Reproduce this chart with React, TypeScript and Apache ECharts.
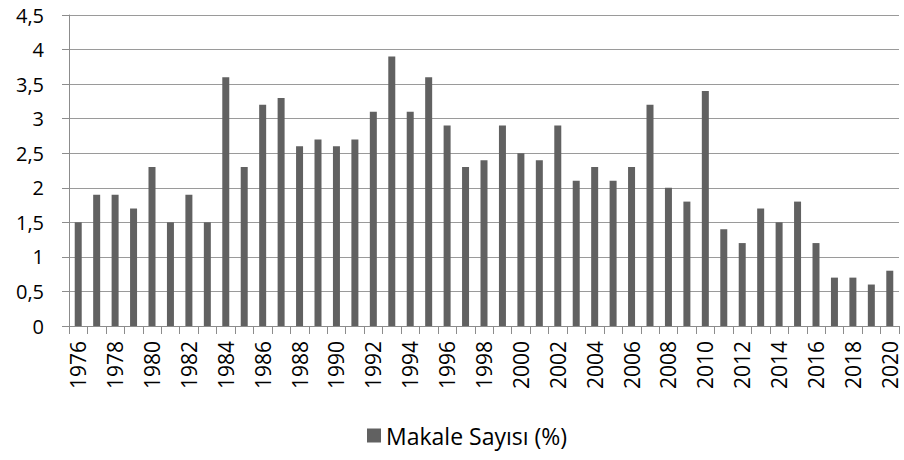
import React, { useEffect, useRef } from "react";
import * as echarts from "echarts";

const years: string[] = [
  "1976","1977","1978","1979","1980","1981","1982","1983","1984","1985",
  "1986","1987","1988","1989","1990","1991","1992","1993","1994","1995",
  "1996","1997","1998","1999","2000","2001","2002","2003","2004","2005",
  "2006","2007","2008","2009","2010","2011","2012","2013","2014","2015",
  "2016","2017","2018","2019","2020",
];
const makaleSayisi: number[] = [
  1.5, 1.9, 1.9, 1.7, 2.3, 1.5, 1.9, 1.5, 3.6, 2.3,
  3.2, 3.3, 2.6, 2.7, 2.6, 2.7, 3.1, 3.9, 3.1, 3.6,
  2.9, 2.3, 2.4, 2.9, 2.5, 2.4, 2.9, 2.1, 2.3, 2.1,
  2.3, 3.2, 2.0, 1.8, 3.4, 1.4, 1.2, 1.7, 1.5, 1.8,
  1.2, 0.7, 0.7, 0.6, 0.8,
];
const seriesName = "Makale Sayısı (%)";

const FONT = "'Open Sans', Lato, sans-serif";

export default function App() {
  const ref = useRef<HTMLDivElement>(null);
  useEffect(() => {
    if (!ref.current) return;
    const chart = echarts.init(ref.current, null, { renderer: "svg" });
    chart.setOption({
      animation: false,
      textStyle: { fontFamily: FONT },
      grid: { left: 69, right: 5, top: 15, bottom: 134, containLabel: false },
      legend: {
        bottom: 8,
        left: 362,
        itemWidth: 14,
        itemHeight: 14,
        itemGap: 6,
        icon: "rect",
        textStyle: { fontSize: 23, color: "#000", fontFamily: FONT },
        data: [seriesName],
      },
      xAxis: {
        type: "category",
        data: years,
        boundaryGap: true,
        axisLine: { show: true, lineStyle: { color: "#8c8c8c", width: 1 } },
        axisTick: { show: true, interval: 0, length: 8, lineStyle: { color: "#8c8c8c" } },
        axisLabel: {
          interval: 1,
          rotate: 90,
          fontSize: 21,
          color: "#000",
          margin: 15,
          fontFamily: FONT,
        },
      },
      yAxis: {
        type: "value",
        min: 0,
        max: 4.5,
        interval: 0.5,
        axisLine: { show: true, lineStyle: { color: "#8c8c8c", width: 1 } },
        axisTick: { show: true, length: 7, lineStyle: { color: "#8c8c8c" } },
        splitLine: { show: true, lineStyle: { color: "#9a9a9a", width: 1 } },
        axisLabel: {
          fontSize: 20,
          color: "#000",
          margin: 25,
          fontFamily: FONT,
          formatter: (v: number) => String(v).replace(".", ","),
        },
      },
      series: [
        {
          name: seriesName,
          type: "bar",
          data: makaleSayisi,
          barWidth: 7,
          itemStyle: { color: "#616161" },
        },
      ],
    });
    return () => chart.dispose();
  }, []);
  return <div ref={ref} style={{ width: 904, height: 460, position: "absolute", left: 0, top: 0 }} />;
}
